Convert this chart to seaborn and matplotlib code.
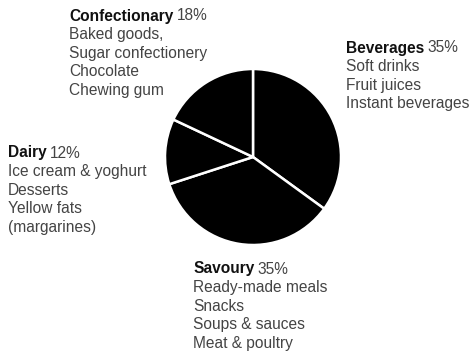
import matplotlib
matplotlib.use("Agg")
import matplotlib.pyplot as plt
import seaborn as sns

categories = ["Beverages", "Savoury", "Dairy", "Confectionary"]
shares = [35, 35, 12, 18]
beverages_items = ["Soft drinks", "Fruit juices", "Instant beverages"]
savoury_items = ["Ready-made meals", "Snacks", "Soups & sauces", "Meat & poultry"]
dairy_items = ["Ice cream & yoghurt", "Desserts", "Yellow fats", "(margarines)"]
confectionary_items = ["Baked goods,", "Sugar confectionery", "Chocolate", "Chewing gum"]

sns.set_theme(style="white")
plt.rcParams['font.family'] = ['Liberation Sans', 'DejaVu Sans']

W, H = 474, 358
fig = plt.figure(figsize=(W / 100, H / 100), dpi=100)
fig.patch.set_facecolor("white")

cx, cy, r = 253, 157, 88
m = 1.03
ax = fig.add_axes([(cx - r * m) / W, (H - cy - r * m) / H, 2 * r * m / W, 2 * r * m / H])
ax.pie(shares, startangle=90, counterclock=False, colors=["black"] * 4,
       wedgeprops=dict(edgecolor="white", linewidth=1.8))
ax.set_xlim(-m, m)
ax.set_ylim(-m, m)
ax.set_aspect("equal")
ax.axis("off")

blocks = [
    ("Confectionary", 18, confectionary_items, 69, 16),
    ("Beverages", 35, beverages_items, 346, 48),
    ("Dairy", 12, dairy_items, 8, 153),
    ("Savoury", 35, savoury_items, 193, 269),
]
fs = 11.2
step = 18.6
fig.canvas.draw()
renderer = fig.canvas.get_renderer()
for name, pct, items, x, y in blocks:
    t = fig.text(x / W, 1 - y / H, name, fontsize=fs, fontweight="bold", color="#111111",
                 va="center", ha="left")
    bb = t.get_window_extent(renderer=renderer)
    fig.text((bb.x1 + 3) / W, 1 - y / H, f"{pct}%", fontsize=fs, fontweight="normal",
             color="#444444", va="center", ha="left")
    for i, it in enumerate(items):
        fig.text(x / W, 1 - (y + step * (i + 1)) / H, it, fontsize=fs, fontweight="normal",
                 color="#444444", va="center", ha="left")

fig.savefig("out.png", dpi=100, facecolor="white")
